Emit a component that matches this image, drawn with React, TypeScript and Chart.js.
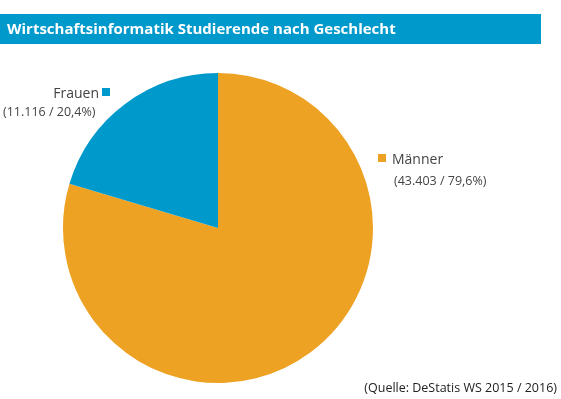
import React, { useEffect, useRef } from "react";
import { Chart, registerables } from "chart.js";

Chart.register(...registerables);

const TITLE = "Wirtschaftsinformatik Studierende nach Geschlecht";
const SOURCE = "(Quelle: DeStatis WS 2015 / 2016)";
const categories = ["Männer", "Frauen"];
const values = [43403, 11116];
const percentLabels = ["79,6%", "20,4%"];
const valueLabels = ["43.403", "11.116"];
const colors = ["#EDA224", "#0099CC"];

const FONT = "'Open Sans', sans-serif";

const decorPlugin = {
  id: "decor",
  beforeDraw(chart: any) {
    const ctx = chart.ctx;
    ctx.save();
    ctx.fillStyle = "#0099CC";
    ctx.fillRect(0, 14, 541, 30);
    ctx.fillStyle = "#ffffff";
    ctx.font = `700 15px ${FONT}`;
    ctx.textBaseline = "alphabetic";
    ctx.textAlign = "left";
    ctx.fillText(TITLE, 7, 34);
    ctx.restore();
  },
  afterDraw(chart: any) {
    const ctx = chart.ctx;
    ctx.save();
    ctx.textBaseline = "alphabetic";
    // Männer (right)
    ctx.fillStyle = colors[0];
    ctx.fillRect(378, 154, 8, 8);
    ctx.fillStyle = "#444444";
    ctx.font = `14px ${FONT}`;
    ctx.textAlign = "left";
    ctx.fillText(categories[0], 392, 164);
    ctx.font = `12.5px ${FONT}`;
    ctx.fillText(`(${valueLabels[0]} / ${percentLabels[0]})`, 394, 185);
    // Frauen (left)
    ctx.fillStyle = colors[1];
    ctx.fillRect(102, 88, 8, 8);
    ctx.fillStyle = "#444444";
    ctx.font = `14px ${FONT}`;
    ctx.textAlign = "right";
    ctx.fillText(categories[1], 99, 98);
    ctx.font = `12.5px ${FONT}`;
    ctx.textAlign = "left";
    ctx.fillText(`(${valueLabels[1]} / ${percentLabels[1]})`, 3, 116);
    // source
    ctx.fillStyle = "#222222";
    ctx.font = `12.5px ${FONT}`;
    ctx.textAlign = "right";
    ctx.fillText(SOURCE, 557, 392);
    ctx.restore();
  },
};

export default function App() {
  const ref = useRef<HTMLCanvasElement>(null);
  useEffect(() => {
    if (!ref.current) return;
    const chart = new Chart(ref.current, {
      type: "pie",
      data: {
        labels: categories,
        datasets: [
          {
            data: values,
            backgroundColor: colors,
            borderWidth: 0,
          },
        ],
      },
      options: {
        animation: false,
        responsive: false,
        layout: { padding: { left: 63, right: 188, top: 73, bottom: 16 } },
        plugins: {
          legend: { display: false },
          tooltip: { enabled: false },
          title: { display: false },
        },
      },
      plugins: [decorPlugin],
    });
    return () => chart.destroy();
  }, []);
  return (
    <div style={{ position: "fixed", left: 0, top: 0, width: 561, height: 399, background: "#fff" }}>
      <canvas ref={ref} width={561} height={399} style={{ width: 561, height: 399 }} />
    </div>
  );
}
